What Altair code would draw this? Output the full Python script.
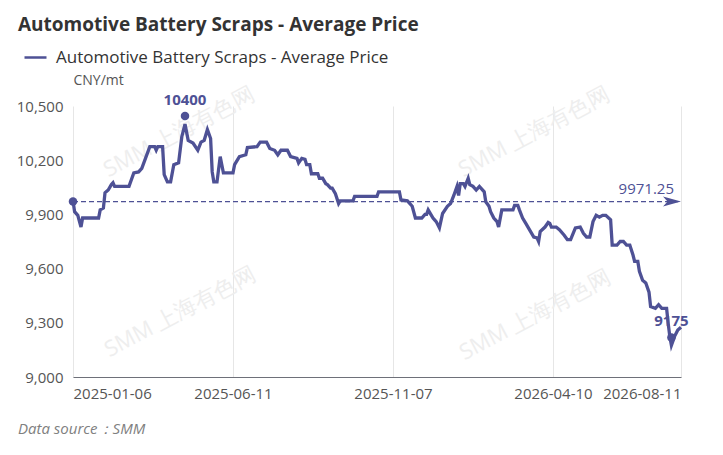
import altair as alt
import pandas as pd

FONT = "Open Sans"
LINE_COLOR = "#4e5195"

series_name = "Automotive Battery Scraps - Average Price"
unit_label = "CNY/mt"
source_note = "Data source：SMM"
watermark = "SMM 上海有色网"

# vertices of the price line (trading-day index, CNY/mt)
day_index = [0, 1, 3, 5, 6, 16, 17, 19, 20, 22, 24, 25, 26, 35, 38, 41, 43, 48, 51, 52, 53, 56,
             57, 59, 61, 63, 66, 68, 70, 72, 75, 78, 80, 82, 84, 86, 87, 88, 90, 92, 93, 94,
             100, 101, 104, 108, 109, 115, 117, 121, 123, 126, 128, 130, 134, 136, 140, 141,
             143, 145, 146, 148, 149, 153, 154, 156, 158, 159, 161, 162, 164, 166, 167, 175,
             176, 190, 191, 204, 205, 209, 212, 214, 218, 220, 221, 222, 224, 225, 226, 227,
             229, 231, 234, 236, 238, 240, 241, 242, 244, 245, 247, 248, 250, 252, 254, 257,
             258, 260, 261, 263, 265, 266, 268, 275, 276, 278, 279, 281, 283, 286, 288, 290,
             291, 292, 295, 297, 298, 299, 302, 304, 307, 309, 311, 314, 317, 319, 321, 323,
             325, 327, 329, 331, 333, 336, 337, 340, 342, 344, 346, 348, 350, 351, 353, 354,
             356, 358, 360, 361, 364, 366, 368, 371, 372, 373, 374, 376, 378, 380]
price = [9975, 9915, 9895, 9830, 9880, 9880, 9925, 9935, 10020, 10035, 10065, 10075, 10055,
         10055, 10130, 10135, 10155, 10275, 10275, 10255, 10275, 10275,
         10120, 10080, 10080, 10175, 10185, 10330, 10400, 10310, 10295, 10255, 10300, 10310,
         10370, 10320, 10135, 10080, 10080, 10220, 10175, 10130,
         10130, 10175, 10220, 10230, 10270, 10275, 10300, 10300, 10265, 10255, 10230, 10255,
         10255, 10220, 10210, 10185,
         10210, 10205, 10175, 10175, 10125, 10125, 10100, 10100, 10070, 10065, 10045, 10045,
         10015, 9960, 9975, 9975,
         10000, 10000, 10025, 10025, 9980, 9975, 9945, 9880, 9880, 9900, 9900, 9925, 9895,
         9880, 9870, 9860,
         9825, 9905, 9945, 9960, 10005, 10055, 10005, 10070, 10070, 10055, 10100, 10065,
         10055, 10035, 10055, 10025,
         9970, 9945, 9915, 9880, 9860, 9830, 9925, 9925, 9950, 9950, 9925, 9880, 9850, 9805,
         9775, 9770,
         9750, 9805, 9830, 9855, 9850, 9830, 9830, 9815, 9785, 9760, 9760, 9825, 9830, 9795,
         9775, 9775,
         9860, 9895, 9885, 9895, 9895, 9870, 9730, 9730, 9750, 9750, 9730, 9730, 9675, 9640,
         9640, 9585,
         9535, 9520, 9470, 9390, 9380, 9400, 9380, 9380, 9295, 9225, 9175, 9225, 9260, 9275]

tick_index = [0, 100, 200, 300, 380]
tick_label = ["2025-01-06", "2025-06-11", "2025-11-07", "2026-04-10", "2026-08-11"]
y_ticks = [9000, 9300, 9600, 9900, 10200, 10500]
mean_price = 9971.25

df = pd.DataFrame({"idx": day_index, "price": price, "series": series_name})

hi = df.loc[df["price"].idxmax()]
lo = df.loc[df["price"].idxmin()]
extremes = pd.DataFrame({
    "idx": [hi["idx"], lo["idx"]],
    "price": [hi["price"], lo["price"]],
    "label": [str(int(hi["price"])), str(int(lo["price"]))],
})
mean_df = pd.DataFrame({"x0": [tick_index[0]], "x1": [tick_index[-1]], "y": [mean_price],
                        "label": [f"{mean_price:.2f}"]})

label_expr = " : ".join(f"datum.value == {i} ? '{t}'" for i, t in zip(tick_index, tick_label)) + " : ''"

x_enc = alt.X("idx:Q",
              scale=alt.Scale(domain=[tick_index[0], tick_index[-1]], nice=False, zero=False),
              axis=alt.Axis(values=tick_index, labelExpr=label_expr, grid=True,
                            gridColor="#e6e6e6", ticks=False, domainColor="#6e7079",
                            labelColor="#555555", labelFontSize=15, labelPadding=9,
                            labelFont=FONT, title=None))
y_enc = alt.Y("price:Q",
              scale=alt.Scale(domain=[y_ticks[0], y_ticks[-1]], nice=False, zero=False),
              axis=alt.Axis(values=y_ticks, format=",.0f", grid=False, domain=False, ticks=False,
                            labelPadding=10, labelFontSize=15, labelColor="#555555",
                            labelFont=FONT, title=unit_label, titleAngle=0, titleAlign="left",
                            titleBaseline="middle", titleX=0, titleY=-26,
                            titleFontWeight="normal", titleFontSize=14,
                            titleColor="#555555", titleFont=FONT))

wm_layers = []
for wx, wy in [(106, 26), (461, 26), (107, 206), (462, 209)]:
    wm_layers.append(
        alt.Chart(pd.DataFrame({"t": [watermark]})).mark_text(
            angle=332, fontSize=22, color="#eeeeee", font=FONT
        ).encode(x=alt.value(wx), y=alt.value(wy), text="t:N")
    )

line = alt.Chart(df).mark_line(strokeWidth=3.3).encode(
    x=x_enc, y=y_enc,
    color=alt.Color("series:N", scale=alt.Scale(range=[LINE_COLOR]),
                    legend=alt.Legend(orient="none", legendX=-50, legendY=-61, title=None,
                                      symbolType="stroke", symbolStrokeWidth=2.5,
                                      symbolSize=484, labelFontSize=17, labelColor="#333333",
                                      labelFont=FONT, labelOffset=8, labelLimit=500))
)

mean_rule = alt.Chart(mean_df).mark_rule(strokeDash=[5, 3], strokeWidth=1.3, color=LINE_COLOR).encode(
    x="x0:Q", x2="x1:Q", y="y:Q")
mean_start = alt.Chart(mean_df).mark_circle(size=72, opacity=1, color=LINE_COLOR).encode(
    x="x0:Q", y="y:Q")
ARROW = "M -1 -0.55 L 1 0 L -1 0.55 L -0.5 0 Z"
mean_end = alt.Chart(mean_df).mark_point(shape=ARROW, filled=True, size=324, opacity=1,
                                         xOffset=-9, color=LINE_COLOR).encode(x="x1:Q", y="y:Q")
mean_text = alt.Chart(mean_df).mark_text(align="right", baseline="middle", dx=-7, dy=-13,
                                         fontSize=15, color=LINE_COLOR, font=FONT).encode(
    x="x1:Q", y="y:Q", text="label:N")

ext_pts = alt.Chart(extremes).mark_circle(size=72, opacity=1, yOffset=-8, color=LINE_COLOR).encode(
    x="idx:Q", y="price:Q")
ext_text = alt.Chart(extremes).mark_text(baseline="middle", dy=-24, fontSize=15, fontWeight="bold",
                                         color=LINE_COLOR, font=FONT).encode(
    x="idx:Q", y="price:Q", text="label:N")

source = alt.Chart(pd.DataFrame({"t": [source_note]})).mark_text(
    align="left", baseline="middle", fontSize=15, fontStyle="italic", color="#808080", font=FONT
).encode(x=alt.value(-55), y=alt.value(323), text="t:N")

chart = alt.layer(
    *wm_layers, mean_rule, line, mean_start, mean_end, mean_text, ext_pts, ext_text, source
).properties(
    width=608, height=271,
    autosize=alt.AutoSizeParams(type="none"),
    padding={"left": 65, "top": 98, "right": 34, "bottom": 70},
    title=alt.Title(series_name, anchor="start", frame="group", dx=-55, dy=-6, fontSize=19,
                    fontWeight="bold", color="#333333", font=FONT),
).configure_view(stroke=None)

chart.save("out.html", embed_options={"renderer": "svg", "actions": False})
